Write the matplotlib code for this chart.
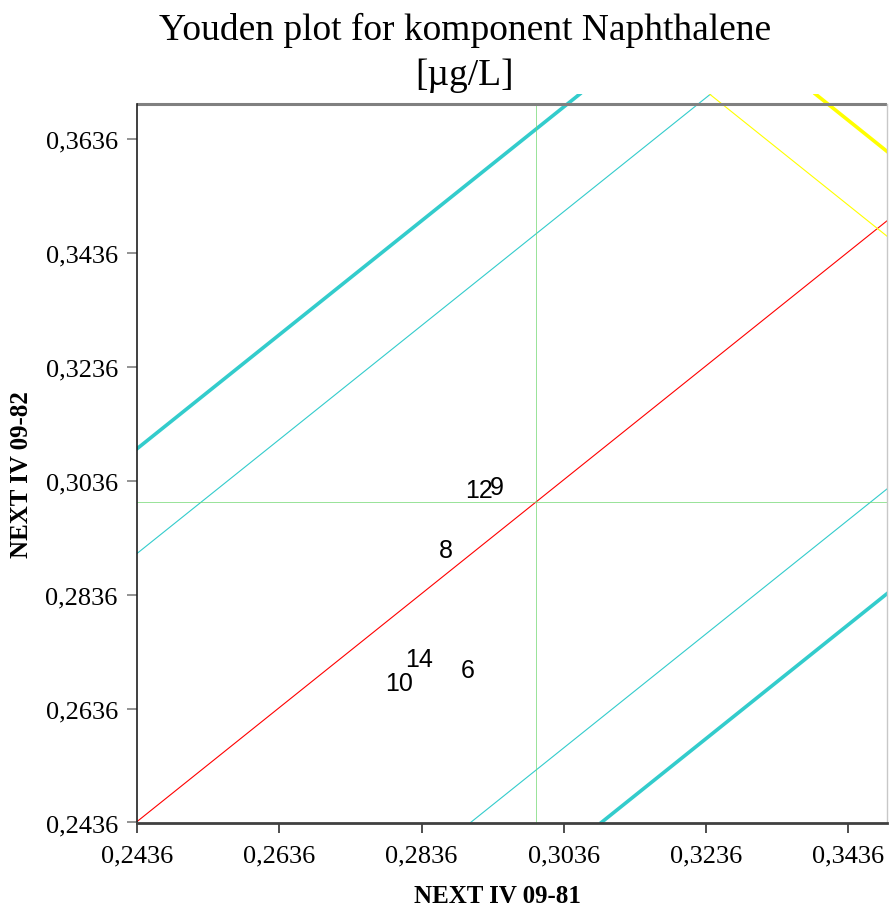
import matplotlib
matplotlib.use("Agg")
import matplotlib.pyplot as plt

# lab results (sample 09-81 vs 09-82)
labs = ["6", "8", "9", "10", "12", "14"]
x_vals = [0.2901, 0.2870, 0.2942, 0.2804, 0.2917, 0.2832]
y_vals = [0.2704, 0.2915, 0.3026, 0.2681, 0.3020, 0.2724]

x_med = 0.2997
y_med = 0.2999
thin_off = 0.0471    # inner band
thick_off = 0.0655   # outer band
yellow_thin = 0.6957
yellow_thick = 0.7106

x_ticks = [0.2436, 0.2636, 0.2836, 0.3036, 0.3236, 0.3436]
y_ticks = [0.2436, 0.2636, 0.2836, 0.3036, 0.3236, 0.3436, 0.3636]
xlim = (0.2436, 0.3491)
ylim = (0.2436, 0.37158)
y_top = 0.3699

fig = plt.figure(figsize=(8.89, 9.12), dpi=100)
ax = fig.add_axes([137.3 / 889, 88.5 / 912, (887 - 137.3) / 889, (823.5 - 95) / 912])

cyan = "#33CCCC"
ax.axline((x_med, y_med), slope=1, color="#FF0000", lw=0.8)
for s in (1, -1):
    ax.axline((x_med, y_med + s * thin_off), slope=1, color=cyan, lw=0.8)
    ax.axline((x_med, y_med + s * thick_off), slope=1, color=cyan, lw=2.6)
ax.axline((0, yellow_thin), slope=-1, color="#FFFF00", lw=0.8)
ax.axline((0, yellow_thick), slope=-1, color="#FFFF00", lw=2.6)

ax.axvline(x_med, ymax=(y_top - ylim[0]) / (ylim[1] - ylim[0]), color="#70D870", lw=0.5)
ax.axhline(y_med, color="#70D870", lw=0.5)

for lab, x, y in zip(labs, x_vals, y_vals):
    ax.text(x, y, lab, ha="center", va="center", fontsize=18,
            family="Liberation Sans", color="black")

ax.set_xlim(*xlim)
ax.set_ylim(*ylim)
ax.set_xticks(x_ticks)
ax.set_yticks(y_ticks)
ax.set_xticklabels([f"{t:.4f}".replace(".", ",") for t in x_ticks])
ax.set_yticklabels([f"{t:.4f}".replace(".", ",") for t in y_ticks])
for lbl in ax.get_xticklabels() + ax.get_yticklabels():
    lbl.set_family("Liberation Serif")
    lbl.set_fontsize(19)
ax.tick_params(axis="x", length=7, width=1.2, color="#303030", pad=9)
ax.tick_params(axis="y", length=7, width=1.2, color="#808080", pad=7)

ax.spines["top"].set_visible(False)
ax.axhline(y_top, color="#808080", lw=2.2)
ax.spines["left"].set_bounds(ylim[0], y_top)
ax.spines["left"].set_color("#202020")
ax.spines["left"].set_linewidth(1.2)
ax.spines["right"].set_bounds(ylim[0], y_top)
ax.spines["right"].set_color("#C8C8C8")
ax.spines["right"].set_linewidth(1.0)
ax.spines["bottom"].set_color("#404040")
ax.spines["bottom"].set_linewidth(2.0)

fig.text(465 / 889, 1 - 30 / 912, "Youden plot for komponent Naphthalene",
         ha="center", va="center", family="Liberation Serif", fontsize=27)
fig.text(464 / 889, 1 - 76 / 912, "[\u00b5g/L]",
         ha="center", va="center", family="Liberation Serif", fontsize=27)
fig.text(497 / 889, 1 - 897 / 912, "NEXT IV 09-81", ha="center", va="center",
         family="Liberation Serif", fontsize=18, fontweight="bold")
fig.text(22 / 889, 1 - 475 / 912, "NEXT IV 09-82", ha="center", va="center",
         rotation=90, family="Liberation Serif", fontsize=18, fontweight="bold")

fig.savefig("out.png", dpi=100)
